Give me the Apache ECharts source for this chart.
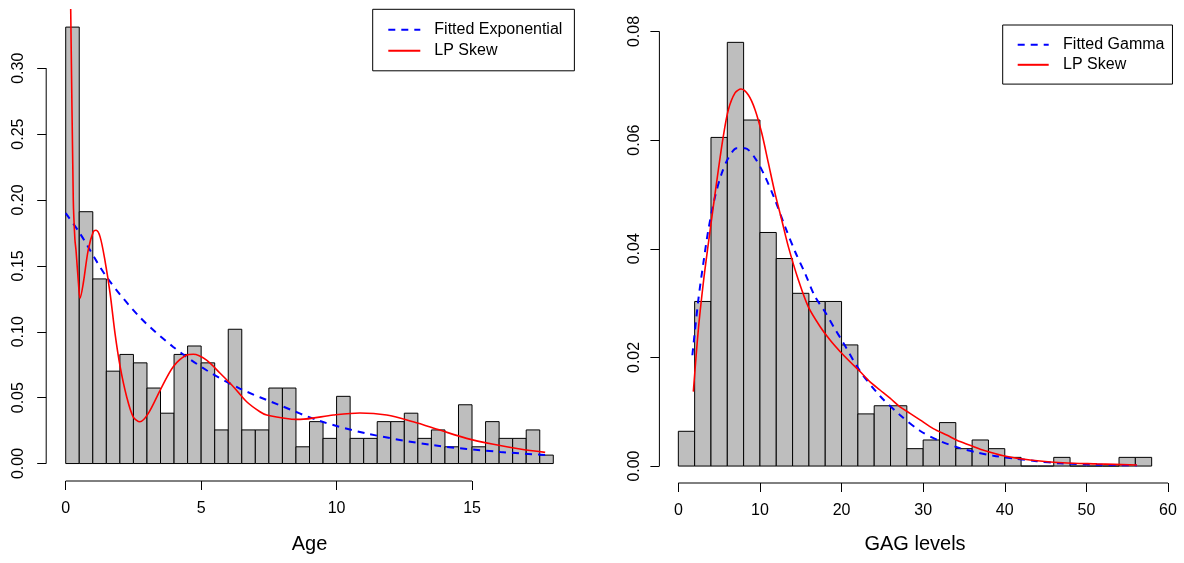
<!DOCTYPE html>
<html>
<head>
<meta charset="utf-8">
<script src="https://cdn.jsdelivr.net/npm/echarts@6/dist/echarts.min.js"></script>
<style>
  html, body { margin: 0; padding: 0; background: #fff; }
  #chart { width: 1184px; height: 563px; }
</style>
</head>
<body>
<div id="chart"></div>
<script>
// ---------- Data ----------
const ageBreaks = [0,0.5,1,1.5,2,2.5,3,3.5,4,4.5,5,5.5,6,6.5,7,7.5,8,8.5,9,9.5,10,10.5,11,11.5,12,12.5,13,13.5,14,14.5,15,15.5,16,16.5,17,17.5,18];
const ageDensity = [0.3312,0.1911,0.1401,0.0701,0.0828,0.0764,0.0573,0.0382,0.0828,0.0892,0.0764,0.0255,0.1019,0.0255,0.0255,0.0573,0.0573,0.0127,0.0318,0.0191,0.0510,0.0191,0.0191,0.0318,0.0318,0.0382,0.0191,0.0255,0.0127,0.0446,0.0127,0.0318,0.0191,0.0191,0.0255,0.0064];

const expAgeX = [0,0.53,1.51,2.74,3.97,5.2,6.43,7.91,9.38,11.11,13.57,16.04,17.7];
const expAgeY = [0.19,0.1745,0.1416,0.111,0.0885,0.0708,0.0569,0.0442,0.0323,0.0228,0.0139,0.0088,0.0065];

const lpAgeX = [0.14,0.185,0.28,0.34,0.38,0.47,0.53,0.65,0.83,1.02,1.12,1.27,1.45,1.64,1.82,2.01,2.25,2.49,2.74,3.05,3.49,3.97,4.47,4.71,5.2,5.7,6.19,6.68,7.17,7.42,8.28,8.65,9.88,10.86,11.85,12.83,13.81,14.8,15.79,16.77,17.7];
const lpAgeY = [0.40,0.344,0.2,0.17,0.162,0.137,0.1254,0.137,0.162,0.176,0.177,0.172,0.154,0.129,0.0988,0.0735,0.0507,0.0355,0.0317,0.0381,0.0558,0.0735,0.0823,0.0829,0.0785,0.0685,0.0583,0.0469,0.0393,0.0368,0.0338,0.0335,0.0368,0.0384,0.0368,0.0317,0.0254,0.0191,0.0146,0.011,0.0085];

const gagBreaks = [0,2,4,6,8,10,12,14,16,18,20,22,24,26,28,30,32,34,36,38,40,42,44,46,48,50,52,54,56,58];
const gagDensity = [0.0064,0.0303,0.0605,0.0780,0.0637,0.0430,0.0382,0.0318,0.0303,0.0303,0.0223,0.0096,0.0111,0.0111,0.0032,0.0048,0.0080,0.0032,0.0048,0.0032,0.0016,0,0,0.0016,0,0,0,0.0016,0.0016];

const gamGagX = [1.72,2.45,3.06,3.68,4.5,5.32,6.13,7.16,8.17,9.4,10.62,11.85,13.07,14.3,15.52,16.75,17.97,19.2,20.02,22.26,24.71,27.16,29.61,32.06,34.51,36.56,38.6,41.06,43.91,46.77,51.26,56.17];
const gamGagY = [0.0204,0.0306,0.0373,0.0435,0.0496,0.0539,0.0567,0.0585,0.0585,0.0567,0.0533,0.049,0.0441,0.0395,0.0355,0.0312,0.0284,0.0252,0.0232,0.0175,0.0129,0.0094,0.0065,0.0046,0.0033,0.0025,0.0019,0.0014,0.0009,0.0005,0.00025,0.00012];

const lpGagX = [1.84,2.45,3.06,3.68,4.29,4.9,5.51,6.13,6.95,7.68,8.58,9.4,10.22,11.03,11.85,12.67,13.48,14.7,15.93,17.36,18.59,19.81,21.04,22.26,23.49,24.71,25.94,27.16,28.39,29.61,31.24,32.88,34.51,36.14,37.0,39.83,43.1,47.1,51.3,56.2];
const lpGagY = [0.0137,0.0251,0.0337,0.041,0.0478,0.0545,0.0607,0.0656,0.0687,0.0694,0.0683,0.0656,0.0613,0.0558,0.0502,0.0453,0.0404,0.0343,0.0293,0.0257,0.0232,0.0211,0.0192,0.0174,0.0155,0.014,0.0125,0.0109,0.0097,0.0085,0.0069,0.0057,0.0045,0.0036,0.0031,0.0019,0.0011,0.0006,0.0004,0.0002];

const ageXTicks = [0,5,10,15];
const ageYTicks = [0,0.05,0.10,0.15,0.20,0.25,0.30];
const gagXTicks = [0,10,20,30,40,50,60];
const gagYTicks = [0,0.02,0.04,0.06,0.08];

// axis ranges (R-style 4% extension)
const ageXMin = -0.72, ageXMax = 18.72, ageYMin = -0.01325, ageYMax = 0.3444;
const gagXMin = -2.32, gagXMax = 60.32, gagYMin = -0.00312, gagYMax = 0.08112;

// ---------- Build ----------
const FONT = 'Liberation Sans, Arial, Helvetica, sans-serif';
function pairs(xs, ys) { return xs.map((x, i) => [x, ys[i]]); }
function bins(br, d) { return d.map((v, i) => [br[i], br[i + 1], v]); }

function renderBar(params, api) {
  const p0 = api.coord([api.value(0), 0]);
  const p1 = api.coord([api.value(1), api.value(2)]);
  return {
    type: 'rect',
    shape: { x: p0[0], y: p1[1], width: p1[0] - p0[0], height: p0[1] - p1[1] },
    style: { fill: '#bebebe', stroke: '#000', lineWidth: 1 }
  };
}

function xAxisCfg(idx, min, max, ticks, name, nameGap) {
  return {
    type: 'value', gridIndex: idx, min: min, max: max,
    splitLine: { show: false },
    axisLine: { show: false, onZero: false },
    axisTick: { show: true, customValues: ticks, length: 9, lineStyle: { color: '#000', width: 1 } },
    axisLabel: { show: true, customValues: ticks, margin: 20, color: '#000', fontSize: 16, fontFamily: FONT,
                 formatter: v => String(v) },
    name: name, nameLocation: 'middle', nameGap: nameGap,
    nameTextStyle: { color: '#000', fontSize: 20, fontFamily: FONT }
  };
}
function yAxisCfg(idx, min, max, ticks, margin) {
  return {
    type: 'value', gridIndex: idx, min: min, max: max,
    splitLine: { show: false },
    axisLine: { show: false, onZero: false },
    axisTick: { show: true, customValues: ticks, length: 9, lineStyle: { color: '#000', width: 1 } },
    axisLabel: { show: true, customValues: ticks, margin: margin, rotate: 90, color: '#000', fontSize: 16, fontFamily: FONT,
                 formatter: v => v.toFixed(2) }
  };
}
function axisLineSeries(xi, yi, data) {
  return { type: 'line', xAxisIndex: xi, yAxisIndex: yi, data: data, symbol: 'none', clip: false, silent: true,
           lineStyle: { color: '#000', width: 1 }, z: 5, animation: false };
}

const legendItemStyle = { color: 'rgba(0,0,0,0)', borderColor: 'rgba(0,0,0,0)', borderWidth: 0, opacity: 0 };

const option = {
  animation: false,
  backgroundColor: '#fff',
  grid: [
    { left: 46.2, top: 9.7, width: 526.6, height: 471.3, containLabel: false, outerBoundsMode: 'none' },
    { left: 659.4, top: 25.4, width: 511.2, height: 457.6, containLabel: false, outerBoundsMode: 'none' }
  ],
  xAxis: [
    xAxisCfg(0, ageXMin, ageXMax, ageXTicks, 'Age', 53),
    xAxisCfg(1, gagXMin, gagXMax, gagXTicks, 'GAG levels', 51)
  ],
  yAxis: [
    yAxisCfg(0, ageYMin, ageYMax, ageYTicks, 20),
    yAxisCfg(1, gagYMin, gagYMax, gagYTicks, 17)
  ],
  legend: [
    {
      left: 372.7, top: 9.3, orient: 'vertical',
      padding: [12.5, 12, 12, 14.6], itemGap: 5, itemWidth: 32, itemHeight: 14,
      borderColor: '#000', borderWidth: 1, backgroundColor: '#fff', borderRadius: 0,
      itemStyle: legendItemStyle,
      textStyle: { color: '#000', fontSize: 16, fontFamily: FONT, padding: [0, 0, 0, 9] },
      data: ['Fitted Exponential', 'LP Skew A'],
      formatter: n => n === 'LP Skew A' ? 'LP Skew' : n,
      selectedMode: false
    },
    {
      left: 1002.7, top: 25, orient: 'vertical',
      padding: [11.8, 8, 11.3, 14], itemGap: 4, itemWidth: 31, itemHeight: 14,
      borderColor: '#000', borderWidth: 1, backgroundColor: '#fff', borderRadius: 0,
      itemStyle: legendItemStyle,
      textStyle: { color: '#000', fontSize: 16, fontFamily: FONT, padding: [0, 0, 0, 9.4] },
      data: ['Fitted Gamma', 'LP Skew B'],
      formatter: n => n === 'LP Skew B' ? 'LP Skew' : n,
      selectedMode: false
    }
  ],
  series: [
    { type: 'custom', name: 'Age hist', xAxisIndex: 0, yAxisIndex: 0, renderItem: renderBar,
      encode: { x: [0, 1], y: 2 }, data: bins(ageBreaks, ageDensity), z: 1 },
    { type: 'custom', name: 'GAG hist', xAxisIndex: 1, yAxisIndex: 1, renderItem: renderBar,
      encode: { x: [0, 1], y: 2 }, data: bins(gagBreaks, gagDensity), z: 1 },
    { type: 'line', name: 'Fitted Exponential', xAxisIndex: 0, yAxisIndex: 0, data: pairs(expAgeX, expAgeY),
      symbol: 'none', smooth: 0.3, lineStyle: { color: '#0000ff', width: 2, type: [7, 6] }, itemStyle: { color: '#0000ff' }, z: 3 },
    { type: 'line', name: 'LP Skew A', xAxisIndex: 0, yAxisIndex: 0, data: pairs(lpAgeX, lpAgeY),
      symbol: 'none', smooth: 0.3, lineStyle: { color: '#ff0000', width: 1.6 }, itemStyle: { color: '#ff0000' }, z: 4 },
    { type: 'line', name: 'Fitted Gamma', xAxisIndex: 1, yAxisIndex: 1, data: pairs(gamGagX, gamGagY),
      symbol: 'none', smooth: 0.3, lineStyle: { color: '#0000ff', width: 2, type: [7, 6] }, itemStyle: { color: '#0000ff' }, z: 3 },
    { type: 'line', name: 'LP Skew B', xAxisIndex: 1, yAxisIndex: 1, data: pairs(lpGagX, lpGagY),
      symbol: 'none', smooth: 0.3, lineStyle: { color: '#ff0000', width: 1.6 }, itemStyle: { color: '#ff0000' }, z: 4 },
    axisLineSeries(0, 0, [[ageXTicks[0], ageYMin], [ageXTicks[ageXTicks.length - 1], ageYMin]]),
    axisLineSeries(0, 0, [[ageXMin, ageYTicks[0]], [ageXMin, ageYTicks[ageYTicks.length - 1]]]),
    axisLineSeries(1, 1, [[gagXTicks[0], gagYMin], [gagXTicks[gagXTicks.length - 1], gagYMin]]),
    axisLineSeries(1, 1, [[gagXMin, gagYTicks[0]], [gagXMin, gagYTicks[gagYTicks.length - 1]]])
  ]
};

const chart = echarts.init(document.getElementById('chart'), null, { renderer: 'canvas' });
chart.setOption(option);
</script>
</body>
</html>
